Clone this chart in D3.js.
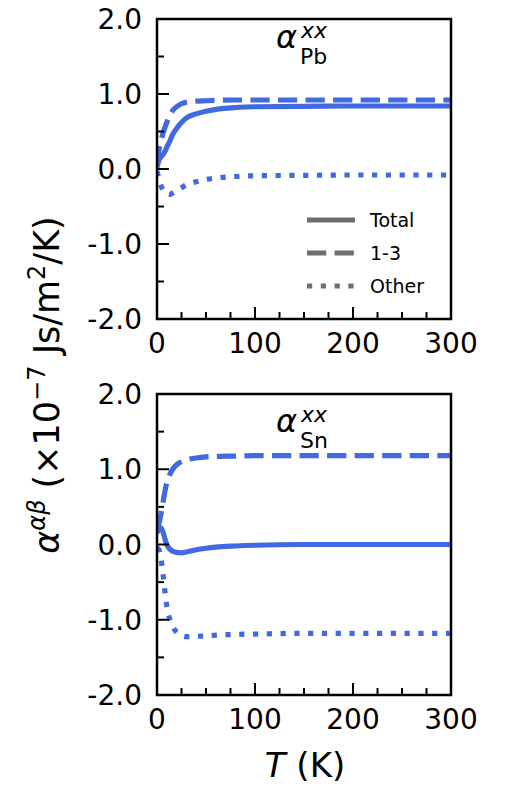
<!DOCTYPE html>
<html><head><meta charset="utf-8">
<script src="https://cdn.jsdelivr.net/npm/d3@7"></script>
<style>body{margin:0;background:#fff}svg{display:block}</style>
</head><body>
<svg id="c" width="508" height="792"></svg>
<script>
// ---- data ----
const temps = [0, 2, 4, 6, 8, 10, 13, 16, 20, 25, 30, 40, 50, 60, 80, 100, 150, 200, 300];
const pbTotal = [0.02, 0.12, 0.16, 0.19, 0.23, 0.29, 0.37, 0.46, 0.54, 0.62, 0.68, 0.735, 0.77, 0.795, 0.82, 0.83, 0.835, 0.84, 0.84];
const pb13    = [0.05, 0.25, 0.37, 0.47, 0.55, 0.62, 0.71, 0.78, 0.83, 0.87, 0.89, 0.905, 0.91, 0.915, 0.92, 0.92, 0.92, 0.92, 0.92];
const pbOther = [-0.03, -0.13, -0.22, -0.28, -0.32, -0.33, -0.34, -0.32, -0.29, -0.25, -0.21, -0.17, -0.14, -0.12, -0.10, -0.09, -0.085, -0.08, -0.08];
const snTotal = [0.15, 0.21, 0.22, 0.17, 0.08, 0.0, -0.06, -0.09, -0.105, -0.11, -0.10, -0.07, -0.05, -0.035, -0.02, -0.01, 0.0, 0.0, 0.0];
const sn13    = [0.2, 0.28, 0.4, 0.55, 0.7, 0.82, 0.93, 1.0, 1.06, 1.1, 1.125, 1.15, 1.165, 1.17, 1.175, 1.18, 1.18, 1.18, 1.18];
const snOther = [-0.05, -0.07, -0.18, -0.38, -0.62, -0.82, -0.99, -1.09, -1.165, -1.21, -1.225, -1.22, -1.215, -1.205, -1.195, -1.19, -1.18, -1.18, -1.18];
const xTicks = [0, 100, 200, 300];
const yTicks = [-2, -1, 0, 1, 2];
const yTickLabels = ["-2.0", "-1.0", "0.0", "1.0", "2.0"];
const seriesNames = ["Total", "1-3", "Other"];

const FONT = "DejaVu Sans";
const BLUE = "#4169e1";
const LW = 5.2;
const dashes = [null, `${3.7*LW},${1.6*LW}`, `${1*LW},${1.65*LW}`];

const svg = d3.select("#c");
svg.append("rect").attr("width", 508).attr("height", 792).attr("fill", "#fff");

const X0 = 157, X1 = 451;
const panels = [
  {y0: 19, y1: 319, series: [pbTotal, pb13, pbOther], sub: "Pb", legend: true, tb: 48},
  {y0: 394, y1: 695, series: [snTotal, sn13, snOther], sub: "Sn", legend: false, tb: 432}
];

panels.forEach((p, pi) => {
  const x = d3.scaleLinear().domain([0, 300]).range([X0, X1]);
  const y = d3.scaleLinear().domain([-2, 2]).range([p.y1, p.y0]);
  const g = svg.append("g");
  const cid = "clip" + pi;
  svg.append("clipPath").attr("id", cid).append("rect")
    .attr("x", X0).attr("y", p.y0).attr("width", X1 - X0).attr("height", p.y1 - p.y0);

  const line = d3.line().x((d, i) => x(temps[i])).y(d => y(d)).curve(d3.curveMonotoneX);
  p.series.forEach((s, k) => {
    g.append("path").attr("d", line(s)).attr("fill", "none").attr("stroke", BLUE)
      .attr("stroke-width", LW).attr("stroke-dasharray", dashes[k])
      .attr("clip-path", `url(#${cid})`);
  });

  // ticks (inward)
  d3.range(0, 301, 25).forEach(t => {
    const major = t % 100 === 0;
    g.append("line").attr("x1", x(t)).attr("x2", x(t)).attr("y1", p.y1).attr("y2", p.y1 - (major ? 12 : 7))
      .attr("stroke", "#000").attr("stroke-width", 2);
  });
  d3.range(-2, 2.01, 0.5).forEach(v => {
    const major = Math.abs(v - Math.round(v)) < 1e-6;
    g.append("line").attr("x1", X0).attr("x2", X0 + (major ? 12 : 7)).attr("y1", y(v)).attr("y2", y(v))
      .attr("stroke", "#000").attr("stroke-width", 2);
  });
  g.append("rect").attr("x", X0).attr("y", p.y0).attr("width", X1 - X0).attr("height", p.y1 - p.y0)
    .attr("fill", "none").attr("stroke", "#000").attr("stroke-width", 2.5);

  // tick labels
  xTicks.forEach(t => {
    g.append("text").attr("x", x(t)).attr("y", p.y1 + 34).attr("text-anchor", "middle")
      .attr("font-family", FONT).attr("font-size", 28).attr("fill", "#000").text(t);
  });
  yTicks.forEach((v, i) => {
    g.append("text").attr("x", 142).attr("y", y(v) + 10).attr("text-anchor", "end")
      .attr("font-family", FONT).attr("font-size", 28).attr("fill", "#000").text(yTickLabels[i]);
  });

  // panel title
  g.append("text").attr("x", 276).attr("y", p.tb).attr("font-family", FONT).attr("font-size", 32)
    .attr("font-style", "italic").text("α");
  g.append("text").attr("x", 301).attr("y", p.tb - 10).attr("font-family", FONT).attr("font-size", 22)
    .attr("font-style", "italic").text("xx");
  g.append("text").attr("x", 300).attr("y", p.tb + 16).attr("font-family", FONT).attr("font-size", 22)
    .text(p.sub);

  if (p.legend) {
    const ly = [220, 253, 286];
    seriesNames.forEach((n, k) => {
      g.append("line").attr("x1", 307).attr("x2", 355).attr("y1", ly[k]).attr("y2", ly[k])
        .attr("stroke", "#6e6e6e").attr("stroke-width", LW).attr("stroke-dasharray", dashes[k]);
      g.append("text").attr("x", 370).attr("y", ly[k] + 7).attr("font-family", FONT).attr("font-size", 19)
        .attr("fill", "#000").text(n);
    });
  }
});

// axis labels
const xl = svg.append("text").attr("x", 305).attr("y", 777).attr("text-anchor", "middle")
  .attr("font-family", FONT).attr("font-size", 34);
xl.append("tspan").attr("font-style", "italic").text("T");
xl.append("tspan").text(" (K)");

const yl = svg.append("text").attr("transform", "translate(59,385) rotate(-90)").attr("text-anchor", "middle")
  .attr("font-family", FONT).attr("font-size", 35);
yl.append("tspan").attr("font-style", "italic").text("α");
yl.append("tspan").attr("font-style", "italic").attr("font-size", 24).attr("dy", -14).text("αβ");
yl.append("tspan").attr("dy", 14).text(" (×10");
yl.append("tspan").attr("font-size", 24).attr("dy", -14).text("−7");
yl.append("tspan").attr("dy", 14).text(" Js/m");
yl.append("tspan").attr("font-size", 24).attr("dy", -14).text("2");
yl.append("tspan").attr("dy", 14).text("/K)");
</script>
</body></html>
